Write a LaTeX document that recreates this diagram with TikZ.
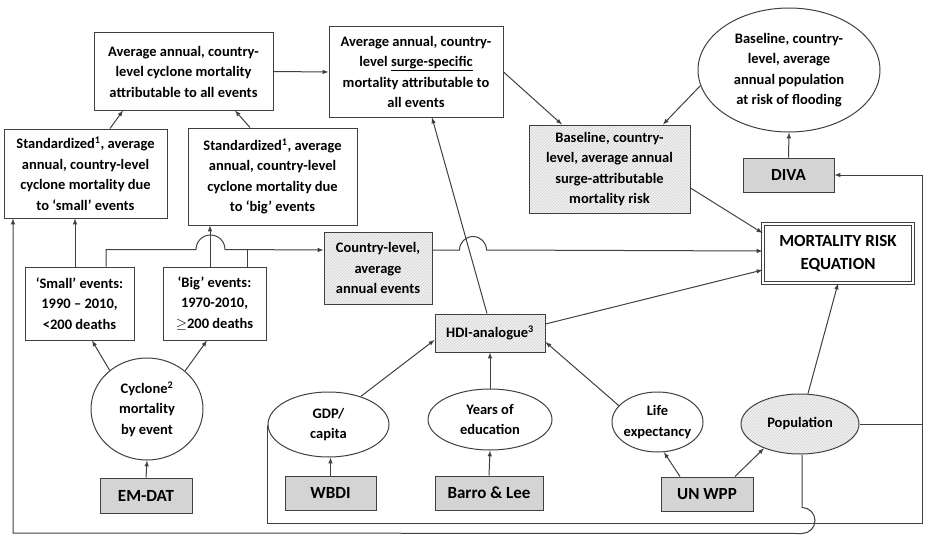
\documentclass[tikz,border=0pt]{standalone}
\usepackage{fontspec}
\setmainfont{Carlito}
\usetikzlibrary{arrows, patterns, shapes.geometric}

\begin{document}
\begin{tikzpicture}[x=1pt, y=-1pt,
    box/.style={draw=black!75, line width=1pt, fill=white, align=center, inner sep=0pt,
      font=\fontsize{14.5}{20.5}\selectfont\bfseries},
    hatchbox/.style={box, preaction={fill=black!5}, pattern=north east lines, pattern color=black!18},
    srcbox/.style={box, fill=black!17, font=\fontsize{17}{20}\selectfont\bfseries},
    oval/.style={box, ellipse, inner sep=-20pt},
    hatchoval/.style={hatchbox, ellipse, inner sep=-20pt},
    link/.style={draw=black!75, line width=1pt, arrows={-latex}},
    wire/.style={draw=black!75, line width=1pt}]
  \useasboundingbox (0,0) rectangle (927,535);

  % Draw mortality boxes along the top.
  \node[box, minimum width=179, minimum height=77] (allev) at (183.5,71.5)
    {Average annual, country-\\level cyclone mortality\\attributable to all events};
  \node[box, minimum width=163, minimum height=89] (stdsmall) at (85.5,173.5)
    {Standardized\textsuperscript{1}, average\\annual, country-level\\cyclone mortality due\\to ‘small’ events};
  \node[box, minimum width=169, minimum height=97] (stdbig) at (272.5,176.5)
    {Standardized\textsuperscript{1}, average\\annual, country-level\\cyclone mortality due\\to ‘big’ events};
  \node[box, minimum width=174, minimum height=90] (surge) at (416,72)
    {Average annual, country-\\level \underline{surge-specific}\\mortality attributable to\\all events};
  \node[hatchbox, minimum width=161, minimum height=88] (basesurge) at (609.5,169)
    {Baseline, country-\\level, average annual\\surge-attributable\\mortality risk};
  \node[oval, minimum width=182, minimum height=124] (popflood) at (789,70)
    {Baseline, country-\\level, average\\annual population\\at risk of flooding};
  \node[srcbox, minimum width=91, minimum height=34] (diva) at (788.5,175) {DIVA};
  \node[box, double=white, double distance=2pt, minimum width=150, minimum height=59,
    font=\fontsize{17}{23}\selectfont\bfseries] (mre) at (838,253.5) {MORTALITY RISK\\EQUATION};

  % Draw event boxes.
  \node[box, minimum width=109, minimum height=73] (smallev) at (79.5,303.5)
    {‘Small’ events:\\1990 -- 2010,\\<200 deaths};
  \node[box, minimum width=103, minimum height=73] (bigev) at (214.5,303.5)
    {‘Big’ events:\\1970-2010,\\$\geq$200 deaths};
  \node[hatchbox, minimum width=108, minimum height=72] (cntry) at (378,268)
    {Country-level,\\average\\annual events};
  \node[hatchbox, minimum width=110, minimum height=38] (hdi) at (490,333)
    {HDI-analogue\textsuperscript{3}};

  % Draw inputs and sources.
  \node[oval, minimum width=112, minimum height=102] (cyclone) at (147,409)
    {Cyclone\textsuperscript{2}\\mortality\\by event};
  \node[oval, minimum width=121, minimum height=65] (gdp) at (328.5,424.5) {GDP/\\capita};
  \node[oval, minimum width=124, minimum height=61] (yoe) at (490,419.5) {Years of\\education};
  \node[oval, minimum width=91, minimum height=60] (life) at (657.5,422) {Life\\expectancy};
  \node[hatchoval, minimum width=118, minimum height=60] (pop) at (800,424) {Population};
  \node[srcbox, minimum width=92, minimum height=35] (emdat) at (146,495.5) {EM-DAT};
  \node[srcbox, minimum width=91, minimum height=34] (wbdi) at (330.5,493) {WBDI};
  \node[srcbox, minimum width=108, minimum height=34] (barro) at (489,493) {Barro \& Lee};
  \node[srcbox, minimum width=92, minimum height=34] (unwpp) at (707,494) {UN WPP};

  % Corners of the long return lines.
  \coordinate (loopcorner) at (922,523);
  \coordinate (backcorner) at (13,533);

  % Draw links in the upper part.
  \draw[link] ([xshift=24.5]stdsmall.north) -- ([xshift=-60.5]allev.south);
  \draw[link] ([xshift=-22.5]stdbig.north) -- ([xshift=51.5]allev.south);
  \draw[link] (allev.east) -- (surge.west);
  \draw[link] (surge.east) -- ([xshift=-47.5]basesurge.north);
  \draw[link] (popflood.190) -- ([xshift=53.5]basesurge.north);
  \draw[link] (diva.north) -- (popflood.south);
  \draw[link] ([yshift=-19]basesurge.east) -- ([yshift=20.5]mre.west);
  \draw[link] ([yshift=18]cntry.east) -- ++(27,0) arc (180:0:13.5pt) -- ([yshift=2.5]mre.west);
  \draw[link] ([yshift=9]hdi.east) -- ([yshift=-16.5]mre.west);
  \draw[link] ([xshift=-3]hdi.north) -- ([xshift=16]surge.south);
  \draw[link] ([xshift=8]pop.north) -- (mre.south);

  % Draw links from the event boxes.
  \draw[link] ([xshift=-4.5]smallev.north) -- ([xshift=-4.5]smallev.north |- stdsmall.south);
  \draw[link] ([xshift=-4.5]bigev.north) -- ([xshift=-4.5]bigev.north |- stdbig.south);
  \draw[link] ([xshift=26.5]smallev.north) -- ++(0,-17) -- ++(90,0) arc (180:0:14.5pt)
    -- ([yshift=18]cntry.west);
  \draw[wire] ([xshift=32.5]bigev.north) -- ++(0,-17);
  \draw[link] (cyclone.134) -- ([xshift=12.5]smallev.south);
  \draw[link] (cyclone.45) -- ([xshift=-7.5]bigev.south);

  % Draw links from the sources.
  \draw[link] (emdat.north) -- (cyclone.south);
  \draw[link] (wbdi.north) -- (wbdi.north |- gdp.south);
  \draw[link] (barro.north) -- (yoe.south);
  \draw[link] ([xshift=-27]unwpp.north) -- (life.282);
  \draw[link] ([xshift=28]unwpp.north) -- (pop.214);
  \draw[link] (gdp.41) -- ([yshift=-7]hdi.west);
  \draw[link] (yoe.north) -- (hdi.south);
  \draw[link] (life.157) -- ([yshift=-9]hdi.east);

  % Draw the long return lines.
  \draw[link] (gdp.west) |- (loopcorner) |- (diva.east);
  \draw[wire] (pop.east) -- (pop.east -| loopcorner);
  \draw[link] ([xshift=2]pop.south) -- ++(0,53) arc (90:-90:13pt) -- (backcorner)
    -- (backcorner |- stdsmall.south);
\end{tikzpicture}
\end{document}
